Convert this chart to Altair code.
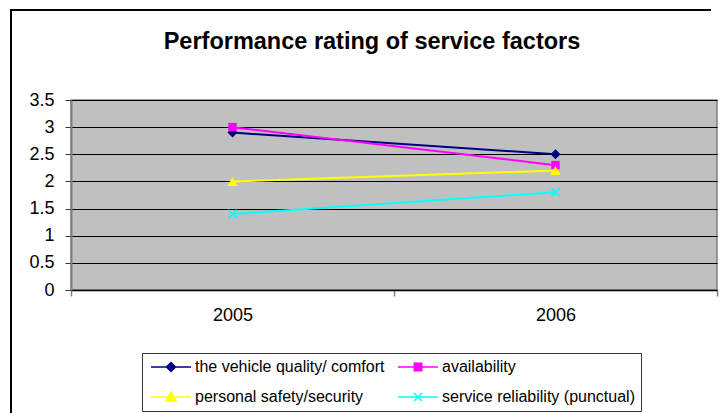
import altair as alt
import pandas as pd

years = ["2005", "2006"]
series = [
    "the vehicle quality/ comfort",
    "availability",
    "personal safety/security",
    "service reliability (punctual)",
]
vehicle = [2.9, 2.5]
availability = [3.0, 2.3]
safety = [2.0, 2.2]
reliability = [1.4, 1.8]
colors = ["#000080", "#FF00FF", "#FFFF00", "#00FFFF"]
y_ticks = [0, 0.5, 1, 1.5, 2, 2.5, 3, 3.5]

rows = []
for name, vals in zip(series, [vehicle, availability, safety, reliability]):
    for yr, v in zip(years, vals):
        rows.append({"year": yr, "series": name, "rating": v})
df = pd.DataFrame(rows)

FONT = "Liberation Sans"
W, H = 646, 190

X_PATH = "M-1,-1L1,1M-1,1L1,-1"
marker_shapes = ["diamond", "square", "triangle-up", X_PATH]
marker_sizes = [100, 72, 110, 70]

# legend symbols: a line with the marker in its middle
legend_paths = [
    "M-1,0H7M3,-0.9L3.9,0L3,0.9L2.1,0Z",
    "M-1,0H7M2.25,-0.75H3.75V0.75H2.25Z",
    "M-1,0H7M3,-1L4,0.8L2,0.8Z",
    "M-1,0H7M2.2,-0.8L3.8,0.8M2.2,0.8L3.8,-0.8",
]

col_scale = alt.Scale(domain=series, range=colors)

leg = alt.Legend(
    title=None, orient="none", legendX=71, legendY=253, columns=2,
    direction="horizontal",
    symbolSize=100, symbolStrokeWidth=1.5, labelFont=FONT, labelFontSize=16,
    labelColor="black", labelOffset=31, columnPadding=10, rowPadding=14,
    padding=6, strokeColor="#333333", fillColor="white", labelLimit=400,
)

x_enc = alt.X(
    "year:N",
    scale=alt.Scale(type="band", domain=years, paddingInner=0, paddingOuter=0),
    axis=alt.Axis(
        title=None, labelAngle=0, tickBand="extent", labelFont=FONT,
        labelFontSize=18, labelColor="black", labelPadding=10,
        domainColor="black", domainWidth=1.5, tickColor="#808080",
        tickWidth=1.5, tickSize=6, grid=False,
    ),
)
y_enc = alt.Y(
    "rating:Q",
    scale=alt.Scale(domain=[0, 3.5], nice=False),
    axis=alt.Axis(
        title=None, values=y_ticks, format=".1~f", labelFont=FONT,
        labelFontSize=18, labelColor="black", labelPadding=11,
        domainColor="#808080", domainWidth=2, tickColor="#333333",
        tickWidth=1, tickSize=6, grid=True, gridColor="black",
        gridWidth=1, gridOpacity=1,
    ),
)

base = alt.Chart(df)

legend_layer = base.transform_filter("false").mark_point(
    filled=True, opacity=1, strokeWidth=1.5, size=100,
).encode(
    x=x_enc, y=y_enc,
    fill=alt.Fill("series:N", scale=col_scale, legend=leg),
    stroke=alt.Stroke("series:N", scale=col_scale, legend=leg),
    shape=alt.Shape("series:N", scale=alt.Scale(domain=series, range=legend_paths), legend=leg),
)

lines = base.mark_line(strokeWidth=2).encode(
    x=x_enc, y=y_enc,
    stroke=alt.Stroke("series:N", scale=col_scale, legend=leg),
)

point_layers = []
for i, name in enumerate(series):
    if i == 3:
        pt = base.transform_filter(alt.datum.series == name).mark_point(
            shape=marker_shapes[i], size=marker_sizes[i], filled=False,
            strokeWidth=1.5, opacity=1,
        ).encode(
            x=x_enc, y=y_enc,
            stroke=alt.Stroke("series:N", scale=col_scale, legend=leg),
        )
    else:
        pt = base.transform_filter(alt.datum.series == name).mark_point(
            shape=marker_shapes[i], size=marker_sizes[i], filled=True,
            opacity=1,
        ).encode(
            x=x_enc, y=y_enc,
            fill=alt.Fill("series:N", scale=col_scale, legend=leg),
        )
    point_layers.append(pt)

frame_df = pd.DataFrame({"k": [0]})
frame_left = alt.Chart(frame_df).mark_rule(color="black", strokeWidth=2).encode(
    x=alt.value(-60), y=alt.value(-91), y2=alt.value(330)
)
frame_top = alt.Chart(frame_df).mark_rule(color="black", strokeWidth=2).encode(
    x=alt.value(-61), x2=alt.value(640), y=alt.value(-90)
)

chart = alt.layer(legend_layer, lines, *point_layers, frame_left, frame_top).properties(
    width=W, height=H,
    title=alt.TitleParams(
        "Performance rating of service factors", font=FONT, fontSize=23.5,
        fontWeight="bold", color="black", anchor="middle", frame="group",
        dx=-22, offset=-45,
    ),
    autosize=alt.AutoSizeParams(type="none"),
    padding={"left": 63, "top": 92, "right": 2, "bottom": 123},
    background="white",
).configure_view(
    stroke="#808080", strokeWidth=1.5, fill="#C0C0C0"
)

chart.save("out.html", embed_options={"renderer": "svg", "actions": False})
